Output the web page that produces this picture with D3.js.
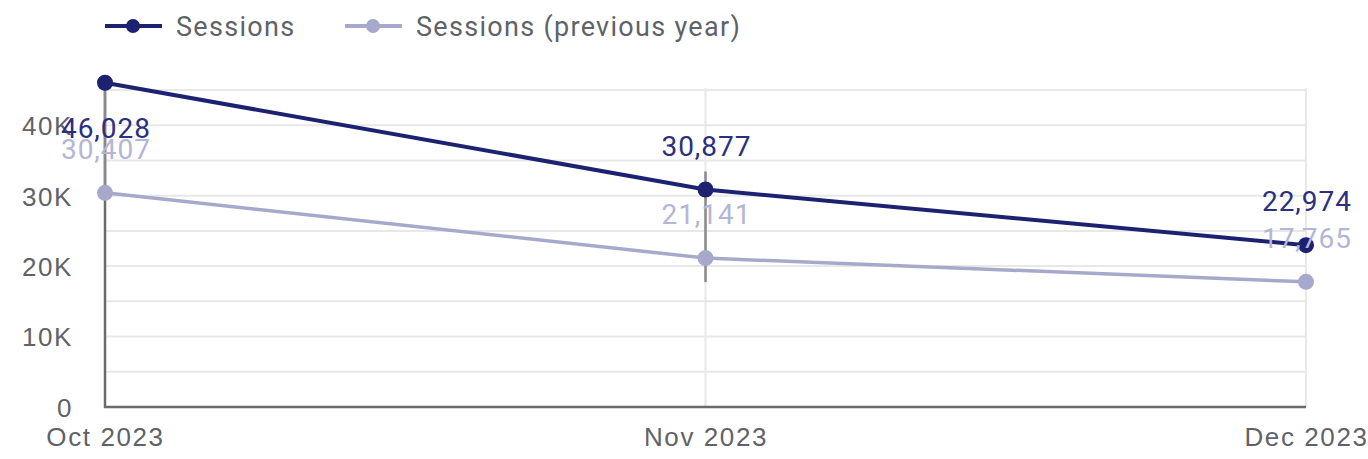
<!DOCTYPE html>
<html>
<head>
<meta charset="utf-8">
<script src="https://cdn.jsdelivr.net/npm/d3@7"></script>
<style>
  html, body { margin: 0; padding: 0; background: #fff; }
  svg { display: block; font-family: Roboto, "Noto Sans", sans-serif; }
</style>
</head>
<body>
<svg id="chart" width="1368" height="459"></svg>
<script>
// data
const months = ['Oct 2023', 'Nov 2023', 'Dec 2023']
const sessions = [46028, 30877, 22974]
const sessionsPrev = [30407, 21141, 17765]
const yTicks = [0, 10000, 20000, 30000, 40000]
const seriesNames = ['Sessions', 'Sessions (previous year)']
const dropMonths = ['Oct 2023', 'Nov 2023'] // months with a dark drop line

const colors = { cur: '#1c2270', prev: '#a6a9cb', curLabel: '#2a3080', prevLabel: '#b3b6d6', text: '#5f6368' }

const svg = d3.select('#chart')
const m = { left: 105, right: 62, top: 90, bottom: 52 }
const W = 1368, H = 459

const x = d3.scalePoint().domain(months).range([m.left, W - m.right])
const y = d3.scaleLinear().domain([0, 45000]).range([H - m.bottom, m.top])

// grid, every 5K
const grid = svg.append('g')
grid.selectAll('line.h')
  .data(d3.range(5000, 45001, 5000))
  .join('line')
  .attr('x1', m.left).attr('x2', W - m.right)
  .attr('y1', d => y(d)).attr('y2', d => y(d))
  .attr('stroke', '#e8e8e8').attr('stroke-width', 2)
grid.selectAll('line.v')
  .data(months.slice(1))
  .join('line')
  .attr('x1', d => x(d)).attr('x2', d => x(d))
  .attr('y1', m.top - 2).attr('y2', H - m.bottom)
  .attr('stroke', '#e8e8e8').attr('stroke-width', 2)

// y axis labels
const yAxis = svg.append('g')
  .attr('transform', `translate(${m.left - 32},0)`)
  .call(d3.axisLeft(y).tickValues(yTicks).tickSize(0).tickPadding(0)
    .tickFormat(d => d === 0 ? '0' : (d / 1000) + 'K'))
yAxis.select('.domain').remove()
yAxis.selectAll('text').attr('fill', colors.text).style('font-size', '26px')
  .style('letter-spacing', '1.6px').attr('dy', '0.36em')

// x axis labels
const xAxis = svg.append('g')
  .attr('transform', `translate(0,${H - m.bottom})`)
  .call(d3.axisBottom(x).tickSize(0).tickPadding(21))
xAxis.select('.domain').remove()
xAxis.selectAll('text').attr('fill', colors.text).style('font-size', '26px')
  .style('letter-spacing', '1.6px')

// axis lines
svg.append('line').attr('x1', m.left).attr('x2', m.left)
  .attr('y1', m.top - 2).attr('y2', H - m.bottom + 1)
  .attr('stroke', '#6b6b6b').attr('stroke-width', 2.5)
svg.append('line').attr('x1', m.left - 1).attr('x2', W - m.right)
  .attr('y1', H - m.bottom).attr('y2', H - m.bottom)
  .attr('stroke', '#6b6b6b').attr('stroke-width', 2.5)

// drop lines between the two series
svg.append('g').selectAll('line')
  .data(dropMonths)
  .join('line')
  .attr('x1', d => x(d)).attr('x2', d => x(d))
  .attr('y1', (d, i) => y(sessions[months.indexOf(d)]) - (i === 0 ? 0 : 18))
  .attr('y2', (d, i) => y(sessionsPrev[months.indexOf(d)]) + (i === 0 ? 0 : 24))
  .attr('stroke', '#8a8a8a').attr('stroke-width', 2.5)

const line = d3.line().x((d, i) => x(months[i])).y(d => y(d)).curve(d3.curveLinear)

function drawSeries(vals, color, width) {
  svg.append('path').datum(vals).attr('d', line)
    .attr('fill', 'none').attr('stroke', color).attr('stroke-width', width)
  svg.append('g').selectAll('circle').data(vals).join('circle')
    .attr('cx', (d, i) => x(months[i])).attr('cy', d => y(d)).attr('r', 8)
    .attr('fill', color)
}
drawSeries(sessionsPrev, colors.prev, 3.5)
drawSeries(sessions, colors.cur, 4)

// value labels, kept inside the plot top
function drawLabels(vals, color) {
  svg.append('g').selectAll('text').data(vals).join('text')
    .attr('x', (d, i) => x(months[i]) + 1)
    .attr('y', d => Math.max(y(d) - 44, m.top + 38))
    .attr('dy', '0.36em')
    .attr('text-anchor', 'middle')
    .attr('fill', color)
    .style('font-size', '28px')
    .style('letter-spacing', '1px')
    .text(d => d3.format(',')(d))
}
drawLabels(sessionsPrev, colors.prevLabel)
drawLabels(sessions, colors.curLabel)

// legend
const legend = svg.append('g').attr('transform', 'translate(105,26)')
const items = legend.selectAll('g').data(seriesNames).join('g')
  .attr('transform', (d, i) => `translate(${i * 240},0)`)
items.append('line').attr('x1', 0).attr('x2', 57).attr('y1', 0).attr('y2', 0)
  .attr('stroke', (d, i) => i ? colors.prev : colors.cur).attr('stroke-width', 4)
items.append('circle').attr('cx', 28).attr('cy', 0).attr('r', 7)
  .attr('fill', (d, i) => i ? colors.prev : colors.cur)
items.append('text').attr('x', 71).attr('dy', '0.36em')
  .attr('fill', colors.text).style('font-size', '27px')
  .style('letter-spacing', '1.3px')
  .text(d => d)
</script>
</body>
</html>
